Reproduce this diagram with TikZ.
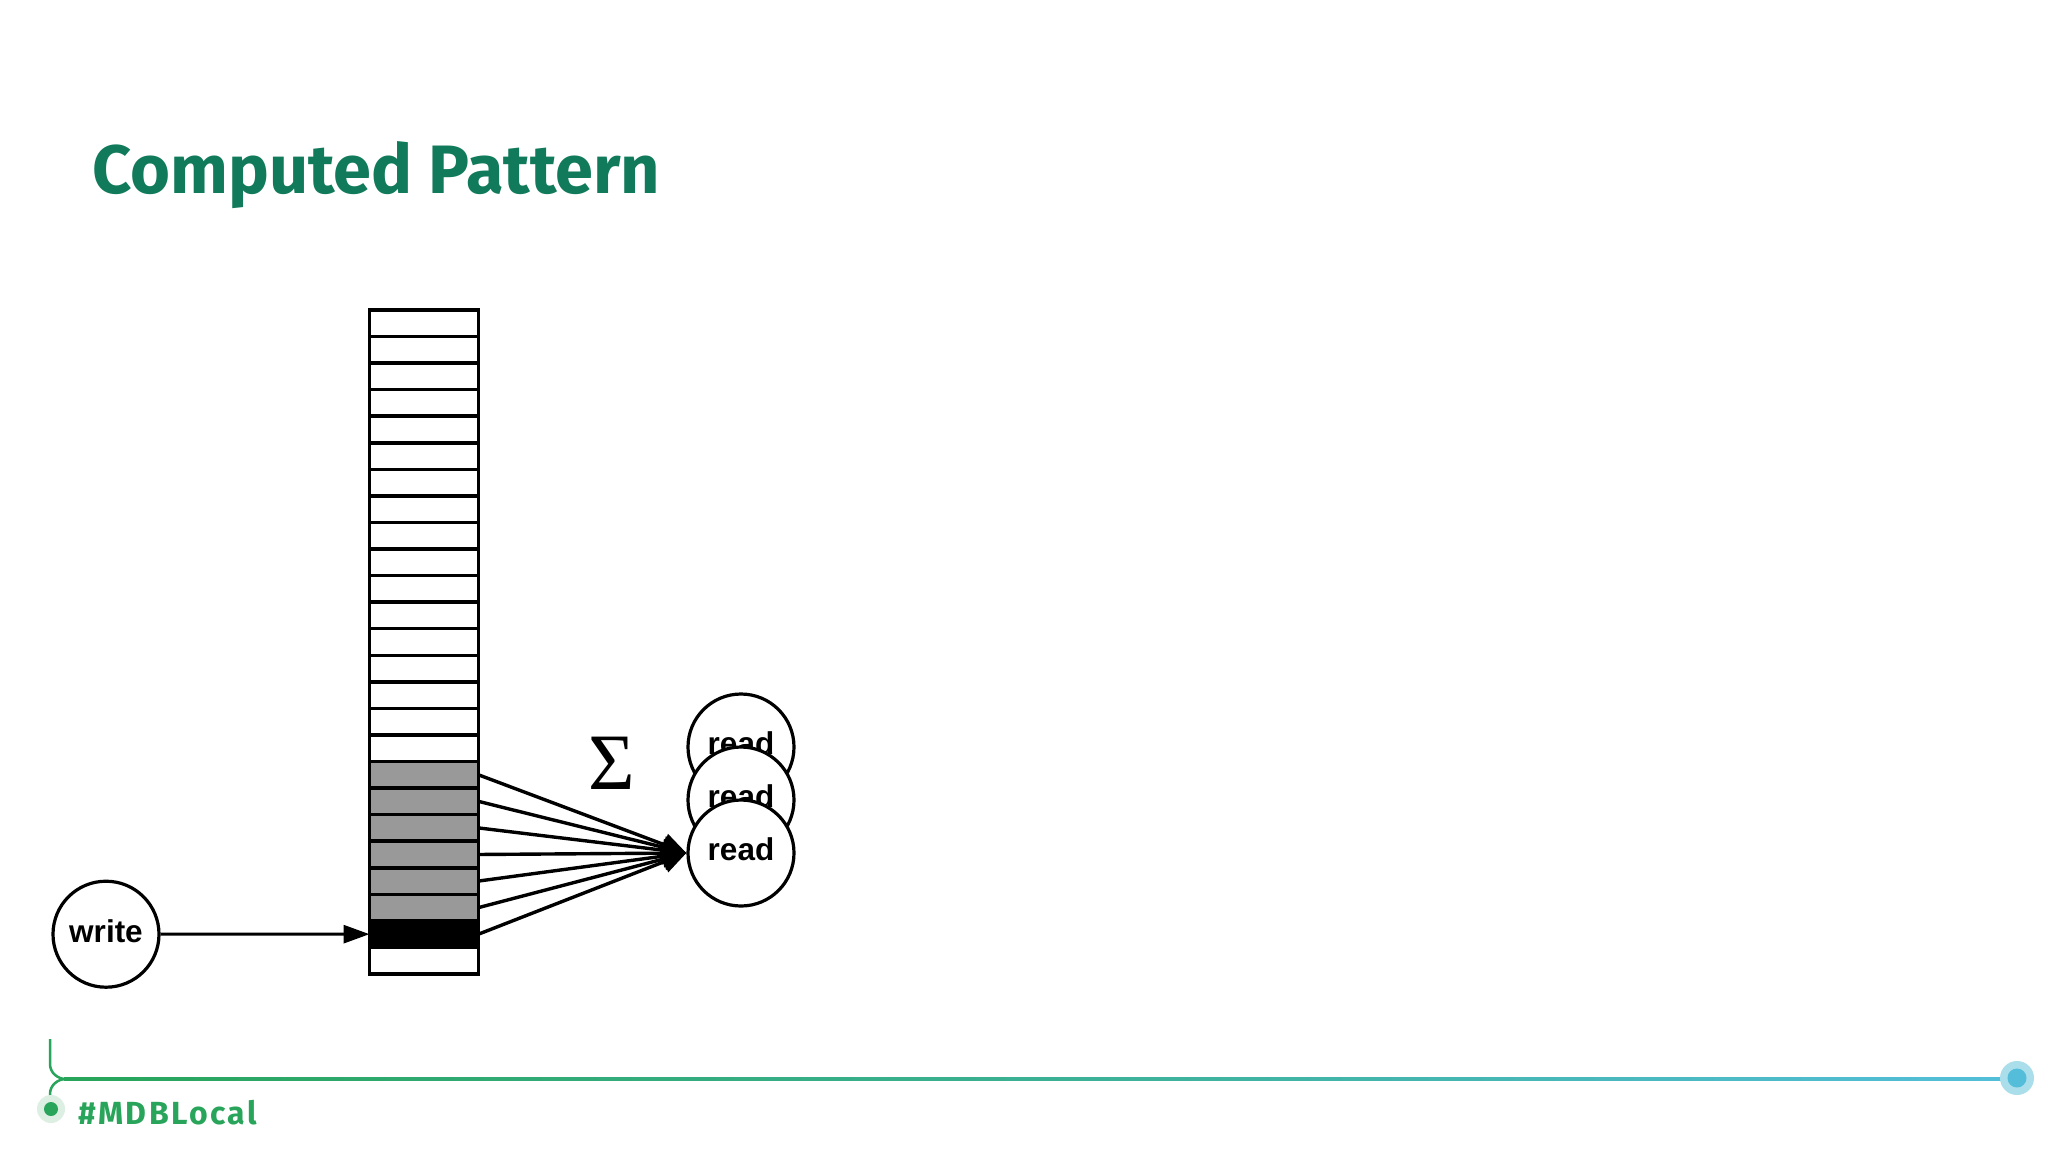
\documentclass[tikz,border=0pt]{standalone}
\usepackage{fontspec}
\setmainfont{Liberation Sans}
\newfontfamily\titlefont{Fira Sans}
\newfontfamily\tagfont[LetterSpace=7.5]{Fira Sans}
\newfontfamily\sigmafont{Liberation Serif}
\usetikzlibrary{arrows.meta}
\definecolor{titlegreen}{RGB}{17,122,90}
\definecolor{footgreen}{RGB}{40,165,90}
\definecolor{footblue}{RGB}{84,190,218}
\definecolor{halogreen}{RGB}{220,239,226}
\definecolor{haloblue}{RGB}{170,222,234}
\definecolor{cellgray}{RGB}{153,153,153}
\tikzset{
  cell/.style={draw=black, line width=3.5pt, fill=white, minimum width=109pt, minimum height=26.56pt, inner sep=0pt, outer sep=0pt, anchor=north west},
  graycell/.style={cell, fill=cellgray},
  blackcell/.style={cell, fill=black},
  opcircle/.style={circle, draw=black, line width=3.2pt, fill=white, minimum size=106pt, inner sep=0pt, font=\fontsize{31.5}{34}\selectfont\bfseries},
  fan/.style={line width=3.4pt, -{Triangle[length=24pt,width=22pt]}},
  wr/.style={line width=3pt, -{Triangle[length=26pt,width=18pt]}},
}
\begin{document}
\begin{tikzpicture}[x=1pt,y=-1pt]
\fill[white] (0,0) rectangle (2048,1152);
\useasboundingbox (0,0) rectangle (2048,1152);
% title
\node[anchor=base west, inner sep=0pt, text=titlegreen, font=\titlefont\bfseries\fontsize{68.5}{71}\selectfont] (title) at (92,193) {Computed Pattern};
% array cells
\foreach \i in {0,...,16} {
  \node[cell] (r\i) at (369.5, {310+\i*26.56}) {};
}
\foreach \i in {17,...,22} {
  \node[graycell] (r\i) at (369.5, {310+\i*26.56}) {};
}
\node[blackcell] (r23) at (369.5, {310+23*26.56}) {};
\node[cell] (r24) at (369.5, {310+24*26.56}) {};
% read circles
\node[opcircle] (rd1) at (741,747) {\raisebox{7pt}{read}};
\node[opcircle] (rd2) at (741,800) {\raisebox{7pt}{read}};
\node[opcircle] (rd3) at (741,853) {\raisebox{7pt}{read}};
% sigma
\node[inner sep=0pt, font=\sigmafont\fontsize{80}{80}\selectfont] (sigma) at (612,763) {Σ};
% write
\node[opcircle] (write) at (106,934.2) {\raisebox{7pt}{write}};
% fan arrows
\foreach \i in {17,...,23} {
  \draw[fan] (r\i.east) -- (rd3.west);
}
\draw[wr] (write.east) -- (r23.west);
% footer
\draw[footgreen, line width=2.5pt] (50,1039) -- (50,1064) to[out=-90,in=180] (66,1079);
\draw[footgreen, line width=2.5pt] (66,1079) to[out=180,in=90] (50,1094) -- (50,1109);
\shade[left color=footgreen, right color=footblue, middle color=footgreen!55!footblue] (64,1077.7) rectangle (2017,1080.3);
\fill[halogreen] (51,1109) circle (14);
\fill[footgreen] (51,1109) circle (7);
\fill[haloblue] (2017,1078) circle (17);
\fill[footblue] (2017,1078) circle (9.5);
\node[anchor=base west, inner sep=0pt, text=footgreen, font=\tagfont\bfseries\fontsize{32}{34}\selectfont] (tag) at (78,1124) {\#MDBLocal};
\end{tikzpicture}
\end{document}
